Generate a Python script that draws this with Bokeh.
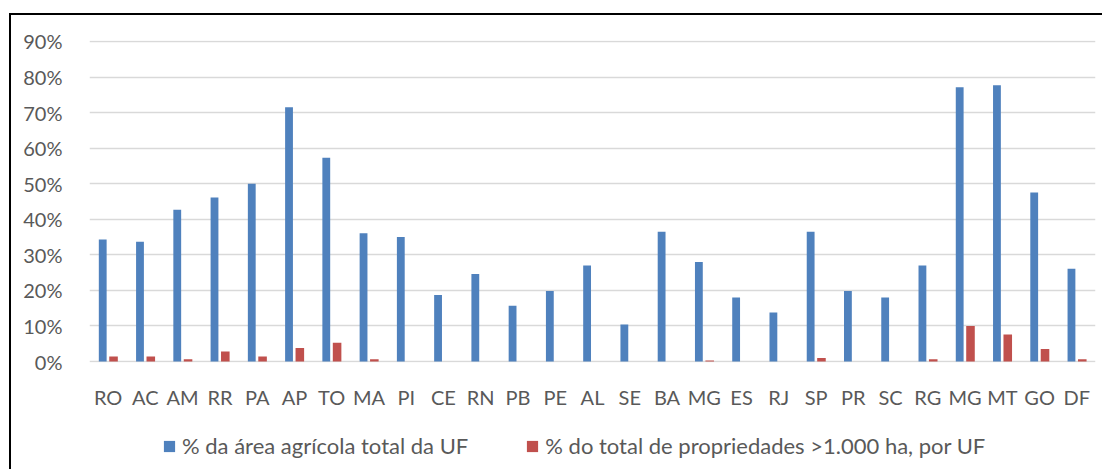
from bokeh.plotting import figure
from bokeh.layouts import column
from bokeh.models import ColumnDataSource, FixedTicker, NumeralTickFormatter, Legend, LegendItem, Range1d
from bokeh.transform import dodge
from bokeh.embed import file_html
from bokeh.resources import INLINE

states = ["RO", "AC", "AM", "RR", "PA", "AP", "TO", "MA", "PI", "CE", "RN", "PB", "PE", "AL",
          "SE", "BA", "MG", "ES", "RJ", "SP", "PR", "SC", "RG", "MG", "MT", "GO", "DF"]
area_agricola = [34.3, 33.7, 42.7, 46.1, 50.0, 71.5, 57.3, 36.1, 35.0, 18.7, 24.6, 15.7, 19.8, 27.0,
                 10.4, 36.5, 28.0, 18.0, 13.8, 36.5, 19.8, 18.0, 27.0, 77.1, 77.7, 47.5, 26.1]
propriedades_1000 = [1.4, 1.4, 0.6, 2.8, 1.4, 3.8, 5.3, 0.6, 0.0, 0.0, 0.0, 0.0, 0.0, 0.0,
                     0.0, 0.0, 0.3, 0.0, 0.0, 1.0, 0.0, 0.0, 0.6, 10.0, 7.6, 3.5, 0.6]
y_ticks = [0.0, 0.1, 0.2, 0.3, 0.4, 0.5, 0.6, 0.7, 0.8, 0.9]
series_names = ["% da área agrícola total da UF", "% do total de propriedades >1.000 ha, por UF"]
series_colors = ["#4F81BD", "#C0504D"]

FONT = "Lato"
TXT = "#595959"

source = ColumnDataSource(dict(
    x=list(range(len(states))),
    a=[v / 100 for v in area_agricola],
    b=[v / 100 for v in propriedades_1000],
))

p = figure(frame_width=1006, frame_height=322, output_backend="svg", toolbar_location=None,
           x_range=Range1d(-0.5, len(states) - 0.5), y_range=Range1d(-0.0028, 0.9028),
           min_border_left=78, min_border_right=7, min_border_top=25, min_border_bottom=45)
p.outline_line_color = None
p.background_fill_color = "white"
p.border_fill_color = "white"

p.vbar(x=dodge("x", -0.145, range=p.x_range), top="a", width=0.21, source=source,
       fill_color=series_colors[0], line_color=None)
p.vbar(x=dodge("x", 0.145, range=p.x_range), top="b", width=0.23, source=source,
       fill_color=series_colors[1], line_color=None)

p.xgrid.visible = False
p.ygrid.ticker = FixedTicker(ticks=y_ticks)
p.ygrid.grid_line_color = "#d9d9d9"
p.ygrid.grid_line_width = 1.5

p.yaxis.ticker = FixedTicker(ticks=y_ticks)
p.yaxis.formatter = NumeralTickFormatter(format="0%")
p.xaxis.ticker = FixedTicker(ticks=list(range(len(states))))
p.xaxis.major_label_overrides = {i: s for i, s in enumerate(states)}

for ax in (p.xaxis, p.yaxis):
    ax.axis_line_color = None
    ax.major_tick_line_color = None
    ax.minor_tick_line_color = None
    ax.major_label_text_font = FONT
    ax.major_label_text_font_size = "20px"
    ax.major_label_text_color = TXT
p.yaxis.major_label_standoff = 21
p.xaxis.major_label_standoff = 16

# legend strip below the chart (its bars lie outside its visible range; only the legend shows)
q = figure(width=1091, height=58, output_backend="svg", toolbar_location=None,
           x_range=Range1d(0, 1), y_range=Range1d(10, 11), x_axis_type=None, y_axis_type=None,
           min_border=0)
q.outline_line_color = None
q.grid.visible = False
q.border_fill_color = "white"
q.background_fill_color = "white"
keys = ["a", "b"]
legend_renderers = [q.vbar(x="x", top=k, width=0.1, source=source, fill_color=c, line_color=None)
                    for k, c in zip(keys, series_colors)]

legend = Legend(items=[LegendItem(label=n, renderers=[r]) for n, r in zip(series_names, legend_renderers)],
                orientation="horizontal", location=(73, 10))
legend.padding = 0
legend.margin = 0
legend.border_line_color = None
legend.background_fill_alpha = 0
legend.glyph_width = 14
legend.glyph_height = 14
legend.label_standoff = 6
legend.spacing = 57
legend.label_text_font = FONT
legend.label_text_font_size = "22px"
legend.label_text_color = TXT
q.add_layout(legend, "center")

lay = column(p, q, spacing=0)
lay.margin = (13, 0, 0, 9)
lay.styles = {"border-left": "2px solid black", "border-top": "2px solid black"}

open("out.html", "w").write(file_html(lay, INLINE))
